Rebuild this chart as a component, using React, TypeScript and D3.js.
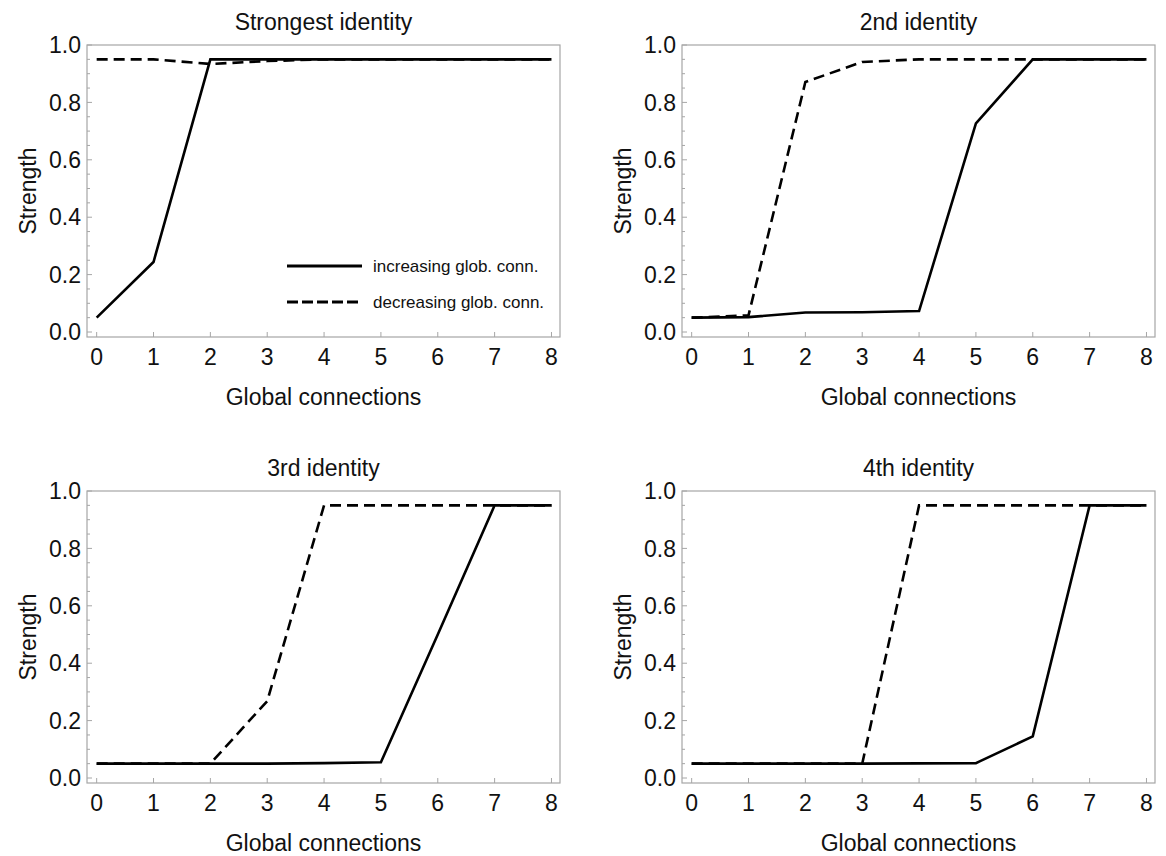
import React from "react";
import * as d3 from "d3";

const xValues = [0, 1, 2, 3, 4, 5, 6, 7, 8];
const xTickLabels = ["0", "1", "2", "3", "4", "5", "6", "7", "8"];
const yTickValues = [0, 0.2, 0.4, 0.6, 0.8, 1.0];
const yTickLabels = ["0.0", "0.2", "0.4", "0.6", "0.8", "1.0"];
const yMinorTicks = [0.05, 0.1, 0.15, 0.25, 0.3, 0.35, 0.45, 0.5, 0.55, 0.65, 0.7, 0.75, 0.85, 0.9, 0.95];

const panelTitles = ["Strongest identity", "2nd identity", "3rd identity", "4th identity"];

const increasing1 = [0.05, 0.244, 0.95, 0.95, 0.95, 0.95, 0.95, 0.95, 0.95];
const decreasing1 = [0.95, 0.95, 0.934, 0.944, 0.95, 0.95, 0.95, 0.95, 0.95];
const increasing2 = [0.05, 0.052, 0.068, 0.069, 0.073, 0.727, 0.95, 0.95, 0.95];
const decreasing2 = [0.05, 0.058, 0.871, 0.941, 0.95, 0.95, 0.95, 0.95, 0.95];
const increasing3 = [0.05, 0.05, 0.05, 0.05, 0.052, 0.055, 0.5, 0.95, 0.95];
const decreasing3 = [0.05, 0.05, 0.05, 0.268, 0.95, 0.95, 0.95, 0.95, 0.95];
const increasing4 = [0.05, 0.05, 0.05, 0.05, 0.051, 0.052, 0.145, 0.95, 0.95];
const decreasing4 = [0.05, 0.05, 0.05, 0.05, 0.95, 0.95, 0.95, 0.95, 0.95];

const increasingSeries = [increasing1, increasing2, increasing3, increasing4];
const decreasingSeries = [decreasing1, decreasing2, decreasing3, decreasing4];

const legendLabels = ["increasing glob. conn.", "decreasing glob. conn."];
const xAxisLabel = "Global connections";
const yAxisLabel = "Strength";

const W = 1166;
const H = 856;
const PW = 473;
const PH = 292;
const panelOrigins = [
  [87, 45],
  [682, 45],
  [87, 491],
  [682, 491],
];

const FONT = "'Liberation Sans', Arial, Helvetica, sans-serif";
const FRAME = "#a6a6a6";
const FS = 23;

const xScale = d3.scaleLinear().domain([-0.17, 8.15]).range([0, PW]);
const yScale = d3.scaleLinear().domain([-0.0174, 1.0]).range([PH, 0]);

function Panel({ idx }: { idx: number }) {
  const [ox, oy] = panelOrigins[idx];
  const line = d3
    .line<number>()
    .x((_, i) => xScale(xValues[i]))
    .y((d) => yScale(d));
  return (
    <g transform={`translate(${ox},${oy})`}>
      <text x={PW / 2} y={-15} textAnchor="middle" fontSize={FS} fontFamily={FONT} fill="#111">
        {panelTitles[idx]}
      </text>
      <rect x={0} y={0} width={PW} height={PH} fill="none" stroke={FRAME} strokeWidth={1.2} />
      {yTickValues.map((v, i) => (
        <g key={"yt" + i}>
          <line x1={0} x2={5} y1={yScale(v)} y2={yScale(v)} stroke={FRAME} strokeWidth={1} />
          <text x={-6} y={yScale(v)} dy="0.36em" textAnchor="end" fontSize={FS} fontFamily={FONT} fill="#111">
            {yTickLabels[i]}
          </text>
        </g>
      ))}
      {yMinorTicks.map((v, i) => (
        <line key={"ym" + i} x1={0} x2={3} y1={yScale(v)} y2={yScale(v)} stroke={FRAME} strokeWidth={1} />
      ))}
      {xValues.map((v, i) => (
        <g key={"xt" + i}>
          <line x1={xScale(v)} x2={xScale(v)} y1={PH} y2={PH - 5} stroke={FRAME} strokeWidth={1} />
          <text x={xScale(v)} y={PH + 28} textAnchor="middle" fontSize={FS} fontFamily={FONT} fill="#111">
            {xTickLabels[i]}
          </text>
        </g>
      ))}
      <text x={PW / 2} y={PH + 68} textAnchor="middle" fontSize={FS} fontFamily={FONT} fill="#111">
        {xAxisLabel}
      </text>
      <text
        transform={`translate(${-51},${PH / 2}) rotate(-90)`}
        textAnchor="middle"
        fontSize={FS}
        fontFamily={FONT}
        fill="#111"
      >
        {yAxisLabel}
      </text>
      <path
        d={line(decreasingSeries[idx]) || ""}
        fill="none"
        stroke="#000"
        strokeWidth={2.6}
        strokeDasharray="11,6"
      />
      <path d={line(increasingSeries[idx]) || ""} fill="none" stroke="#000" strokeWidth={2.6} />
      {idx === 0 && (
        <g>
          <line x1={200} x2={275} y1={221} y2={221} stroke="#000" strokeWidth={3} />
          <text x={286} y={221} dy="0.36em" fontSize={17} fontFamily={FONT} fill="#111">
            {legendLabels[0]}
          </text>
          <line x1={200} x2={272} y1={257} y2={257} stroke="#000" strokeWidth={3} strokeDasharray="11,4" />
          <text x={286} y={257} dy="0.36em" fontSize={17} fontFamily={FONT} fill="#111">
            {legendLabels[1]}
          </text>
        </g>
      )}
    </g>
  );
}

export default function App() {
  return (
    <svg
      width={W}
      height={H}
      viewBox={`0 0 ${W} ${H}`}
      style={{ position: "absolute", left: 0, top: 0, background: "#fff" }}
    >
      <rect x={0} y={0} width={W} height={H} fill="#fff" />
      {[0, 1, 2, 3].map((i) => (
        <Panel key={i} idx={i} />
      ))}
    </svg>
  );
}
